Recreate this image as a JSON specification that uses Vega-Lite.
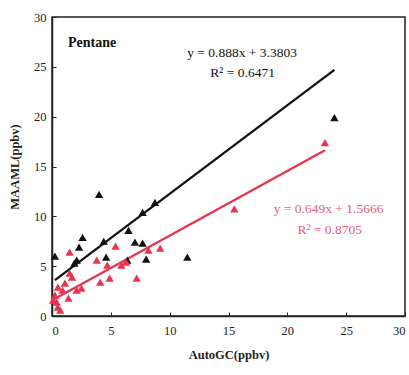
{
  "$schema": "https://vega.github.io/schema/vega-lite/v6.json",
  "width": 353,
  "height": 299,
  "autosize": {"type": "none"},
  "padding": {"left": 52, "top": 17, "right": 4, "bottom": 59},
  "background": "white",
  "config": {
    "view": {"stroke": "#222", "strokeWidth": 1.5},
    "font": "Liberation Serif",
    "axis": {"grid": false, "domainColor": "#222", "domainWidth": 1.5, "tickColor": "#222", "labelFont": "Liberation Serif", "labelFontSize": 12.5, "labelColor": "#222", "titleFont": "Liberation Serif", "titleFontSize": 12.5, "titleColor": "#222", "titleFontWeight": "bold", "tickSize": -4, "tickWidth": 1}
  },
  "datasets": {
    "pts": [
      {"x": 0.25, "y": 6.0, "s": "black"},
      {"x": 4.0, "y": 12.2, "s": "black"},
      {"x": 2.6, "y": 7.9, "s": "black"},
      {"x": 2.3, "y": 6.9, "s": "black"},
      {"x": 2.1, "y": 5.6, "s": "black"},
      {"x": 1.9, "y": 5.3, "s": "black"},
      {"x": 4.4, "y": 7.5, "s": "black"},
      {"x": 4.6, "y": 5.9, "s": "black"},
      {"x": 6.5, "y": 8.6, "s": "black"},
      {"x": 6.4, "y": 5.6, "s": "black"},
      {"x": 7.05, "y": 7.4, "s": "black"},
      {"x": 7.7, "y": 7.3, "s": "black"},
      {"x": 7.7, "y": 10.4, "s": "black"},
      {"x": 8.75, "y": 11.4, "s": "black"},
      {"x": 8.0, "y": 5.7, "s": "black"},
      {"x": 11.5, "y": 5.9, "s": "black"},
      {"x": 24.0, "y": 19.9, "s": "black"},
      {"x": 1.5, "y": 6.4, "s": "red"},
      {"x": 5.4, "y": 7.0, "s": "red"},
      {"x": 3.8, "y": 5.6, "s": "red"},
      {"x": 4.7, "y": 5.1, "s": "red"},
      {"x": 5.9, "y": 5.1, "s": "red"},
      {"x": 6.3, "y": 5.4, "s": "red"},
      {"x": 1.5, "y": 4.3, "s": "red"},
      {"x": 1.7, "y": 3.9, "s": "red"},
      {"x": 4.1, "y": 3.4, "s": "red"},
      {"x": 4.9, "y": 3.8, "s": "red"},
      {"x": 7.2, "y": 3.8, "s": "red"},
      {"x": 8.2, "y": 6.6, "s": "red"},
      {"x": 9.2, "y": 6.8, "s": "red"},
      {"x": 2.5, "y": 2.8, "s": "red"},
      {"x": 2.1, "y": 2.6, "s": "red"},
      {"x": 1.4, "y": 1.8, "s": "red"},
      {"x": 1.1, "y": 3.3, "s": "red"},
      {"x": 0.5, "y": 2.9, "s": "red"},
      {"x": 0.9, "y": 2.6, "s": "red"},
      {"x": 0.25, "y": 2.1, "s": "red"},
      {"x": 0.1, "y": 1.6, "s": "red"},
      {"x": 0.4, "y": 1.4, "s": "red"},
      {"x": 0.5, "y": 0.9, "s": "red"},
      {"x": 0.7, "y": 0.6, "s": "red"},
      {"x": 15.5, "y": 10.75, "s": "red"},
      {"x": 23.2, "y": 17.4, "s": "red"}
    ],
    "fit": [
      {"x": 0.25, "y": 3.6, "s": "black"},
      {"x": 24.0, "y": 24.69, "s": "black"},
      {"x": 0.05, "y": 1.6, "s": "red"},
      {"x": 23.2, "y": 16.62, "s": "red"}
    ],
    "labels": [
      {"t": "Pentane", "x": 1.36, "y": 27.4, "g": "title"},
      {"t": "y = 0.888x + 3.3803", "x": 16.15, "y": 26.4, "g": "black"},
      {"t": "R² = 0.6471", "x": 16.2, "y": 24.4, "g": "black"},
      {"t": "y = 0.649x + 1.5666", "x": 23.5, "y": 10.75, "g": "red"},
      {"t": "R² = 0.8705", "x": 23.6, "y": 8.6, "g": "red"}
    ]
  },
  "layer": [
    {
      "data": {"name": "fit"},
      "mark": {"type": "line", "strokeWidth": 2.3},
      "encoding": {
        "x": {"field": "x", "type": "quantitative", "scale": {"domain": [0, 30], "nice": false}, "axis": {"values": [0, 5, 10, 15, 20, 25, 30], "title": "AutoGC(ppbv)", "labelPadding": 12, "titlePadding": 12}},
        "y": {"field": "y", "type": "quantitative", "scale": {"domain": [0, 30], "nice": false}, "axis": {"values": [0, 5, 10, 15, 20, 25, 30], "title": "MAAML(ppbv)", "labelPadding": 10, "titlePadding": 12}},
        "color": {"field": "s", "type": "nominal", "scale": {"domain": ["black", "red"], "range": ["#111111", "#e8344e"]}, "legend": null},
        "detail": {"field": "s"}
      }
    },
    {
      "data": {"name": "pts"},
      "mark": {"type": "point", "shape": "triangle-up", "filled": true, "size": 70, "opacity": 1},
      "encoding": {
        "x": {"field": "x", "type": "quantitative"},
        "y": {"field": "y", "type": "quantitative"},
        "color": {"field": "s", "type": "nominal", "legend": null}
      }
    },
    {
      "data": {"name": "labels"},
      "transform": [{"filter": "datum.g == 'title'"}],
      "mark": {"type": "text", "align": "left", "fontWeight": "bold", "fontSize": 14, "color": "#111"},
      "encoding": {"x": {"field": "x", "type": "quantitative"}, "y": {"field": "y", "type": "quantitative"}, "text": {"field": "t"}}
    },
    {
      "data": {"name": "labels"},
      "transform": [{"filter": "datum.g == 'black'"}],
      "mark": {"type": "text", "align": "center", "fontSize": 13.5, "color": "#111"},
      "encoding": {"x": {"field": "x", "type": "quantitative"}, "y": {"field": "y", "type": "quantitative"}, "text": {"field": "t"}}
    },
    {
      "data": {"name": "labels"},
      "transform": [{"filter": "datum.g == 'red'"}],
      "mark": {"type": "text", "align": "center", "fontSize": 13.5, "color": "#e0607a"},
      "encoding": {"x": {"field": "x", "type": "quantitative"}, "y": {"field": "y", "type": "quantitative"}, "text": {"field": "t"}}
    }
  ]
}
